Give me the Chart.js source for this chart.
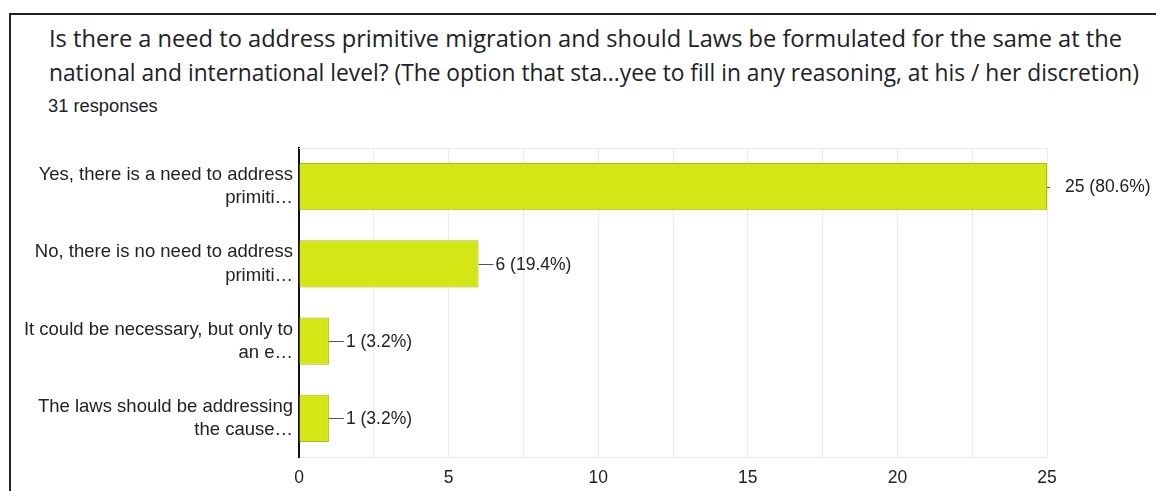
<!DOCTYPE html>
<html>
<head>
<meta charset="utf-8">
<script src="https://cdn.jsdelivr.net/npm/chart.js@4"></script>
<style>
  html, body { margin: 0; padding: 0; background: #fff; }
  body { width: 1156px; height: 491px; position: relative; overflow: hidden; }
  #frame {
    position: absolute; left: 9px; top: 13px; right: -10px; bottom: -10px;
    border-top: 2px solid #222; border-left: 2px solid #222;
  }
  .title {
    position: absolute; left: 49px; font-family: "Open Sans", sans-serif;
    font-size: 23.6px; color: #202124; white-space: nowrap; transform-origin: 0 0;
  }
  #resp {
    position: absolute; left: 48px; top: 95px; font-family: "Liberation Sans", Arial, sans-serif;
    font-size: 18.3px; color: #202124;
  }
  #wrap { position: absolute; left: 0; top: 130px; width: 1156px; height: 361px; }
</style>
</head>
<body>
<div id="frame"></div>
<div class="title" data-w="1073" style="top: 22px;">Is there a need to address primitive migration and should Laws be formulated for the same at the</div>
<div class="title" data-w="1090" style="top: 56px;">national and international level? (The option that sta...yee to fill in any reasoning, at his / her discretion)</div>
<div id="resp">31 responses</div>
<div id="wrap"><canvas id="chart"></canvas></div>
<script>
// 제목 줄 너비 맞추기
document.querySelectorAll('.title').forEach(el => {
    const w = el.getBoundingClientRect().width;
    el.style.transform = 'scaleX(' + (Number(el.dataset.w) / w) + ')';
});

// 응답 항목 (축 레이블은 두 줄)
const categories = [
    ['Yes, there is a need to address', 'primiti…'],
    ['No, there is no need to address', 'primiti…'],
    ['It could be necessary, but only to', 'an e…'],
    ['The laws should be addressing', 'the cause…']
];
const counts = [25, 6, 1, 1];
const percents = ['80.6%', '19.4%', '3.2%', '3.2%'];
const xTicks = [0, 5, 10, 15, 20, 25];

const FONT = '"Liberation Sans", Arial, sans-serif';

// 막대 끝에 값 레이블 그리기
const valueLabels = {
    id: 'valueLabels',
    afterDatasetsDraw(chart) {
        const ctx = chart.ctx;
        const meta = chart.getDatasetMeta(0);
        const area = chart.chartArea;
        ctx.save();
        // 차트 영역 상단 경계선
        ctx.strokeStyle = '#ebebeb';
        ctx.lineWidth = 1;
        ctx.beginPath();
        ctx.moveTo(area.left, area.top + 0.5);
        ctx.lineTo(area.right, area.top + 0.5);
        ctx.stroke();

        ctx.font = '17.5px ' + FONT;
        ctx.fillStyle = '#222';
        ctx.textBaseline = 'middle';
        meta.data.forEach((bar, i) => {
            const y = bar.y;
            const x = bar.x;
            const lead = i === 0 ? 3 : 15;
            const gap = i === 0 ? 15 : 2;
            ctx.strokeStyle = '#555';
            ctx.lineWidth = 1;
            ctx.beginPath();
            ctx.moveTo(x, Math.round(y) + 0.5);
            ctx.lineTo(x + lead, Math.round(y) + 0.5);
            ctx.stroke();
            ctx.fillText(counts[i] + ' (' + percents[i] + ')', x + lead + gap, y + 1);
        });
        ctx.restore();
    }
};

const chart_data = {
    labels: categories,
    datasets: [
        {
            data: counts,
            backgroundColor: '#d4e614',
            borderColor: '#a9bd12',
            borderWidth: 1,
            categoryPercentage: 1.0,
            barPercentage: 0.61
        }
    ]
};

const chart_options = {
    indexAxis: 'y',
    responsive: true,
    maintainAspectRatio: false,
    animation: false,
    layout: { padding: { top: 18, right: 109, left: 0, bottom: 0 } },
    plugins: {
        legend: { display: false },
        tooltip: { enabled: false }
    },
    scales: {
        x: {
            min: 0,
            max: 25,
            afterFit: (scale) => { scale.height = 34; },
            afterBuildTicks: (scale) => {
                const t = [];
                for (let v = 0; v <= 25; v += 2.5) t.push({ value: v });
                scale.ticks = t;
            },
            ticks: {
                autoSkip: false,
                maxRotation: 0,
                padding: 11,
                color: '#222',
                font: { family: FONT, size: 17.5 },
                callback: (v) => xTicks.includes(v) ? String(v) : ''
            },
            grid: { color: '#ebebeb', drawTicks: false },
            border: { color: '#ebebeb' }
        },
        y: {
            afterFit: (scale) => {
                scale.width = 299;
                scale.paddingTop = 0;
                scale.paddingBottom = 0;
            },
            ticks: {
                padding: 6,
                color: '#222',
                font: { family: FONT, size: 18.5, lineHeight: 1.25 }
            },
            grid: { display: false, drawTicks: false },
            border: { color: '#111', width: 2 }
        }
    }
};

new Chart(document.getElementById('chart').getContext('2d'), {
    type: 'bar',
    data: chart_data,
    options: chart_options,
    plugins: [valueLabels]
});
</script>
</body>
</html>
